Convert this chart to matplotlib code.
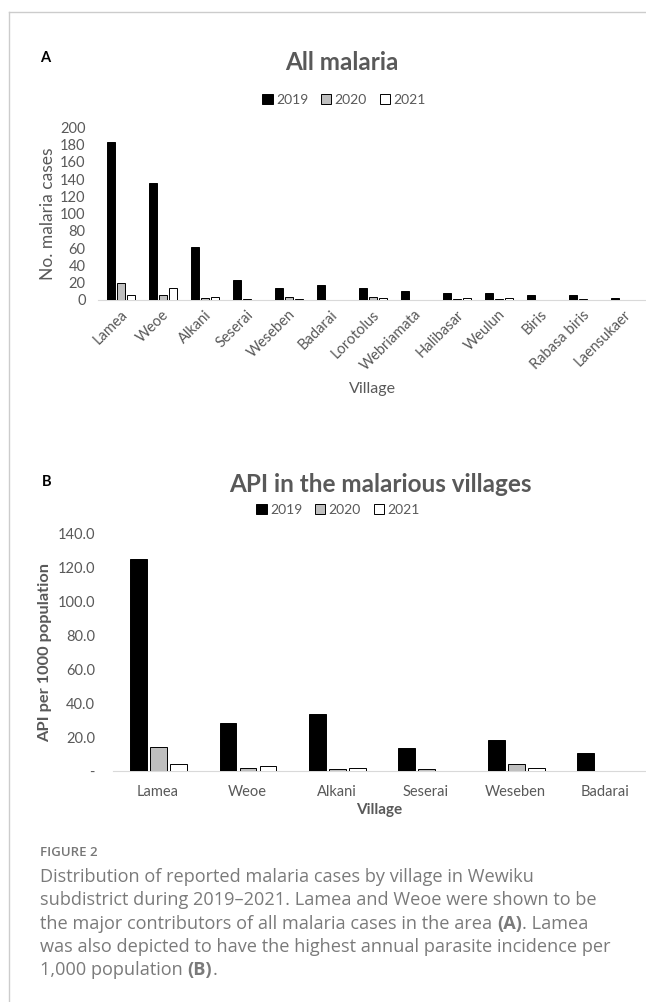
import numpy as np
import matplotlib.pyplot as plt
import matplotlib.transforms as mtrans
from matplotlib.lines import Line2D
from matplotlib.patches import Patch

plt.rcParams['font.family'] = ['Lato', 'DejaVu Sans']

# panel A data
villages_a = ['Lamea', 'Weoe', 'Alkani', 'Seserai', 'Weseben', 'Badarai', 'Lorotolus',
              'Webriamata', 'Halibasar', 'Weulun', 'Biris', 'Rabasa biris', 'Laensukaer']
cases_2019 = [183, 135, 61, 23, 14, 17, 14, 11, 8, 8, 6, 6, 2]
cases_2020 = [20, 6, 2, 1, 3, 0, 4, 0, 1, 1, 0, 1, 0]
cases_2021 = [6, 14, 3, 0, 1, 0, 2, 0, 2, 2, 0, 0, 0]

# panel B data
villages_b = ['Lamea', 'Weoe', 'Alkani', 'Seserai', 'Weseben', 'Badarai']
api_2019 = [124.7, 28.1, 33.4, 13.5, 18.1, 10.4]
api_2020 = [13.9, 1.5, 1.4, 1.0, 4.1, 0]
api_2021 = [4.3, 3.1, 1.9, 0, 1.5, 0]

years = ['2019', '2020', '2021']
colors = ['#000000', '#bfbfbf', '#ffffff']
grey = '#595959'

W, H = 646, 1002
fig = plt.figure(figsize=(W / 100, H / 100), dpi=100)


def px(x, y):
    return x / W, 1 - y / H


def draw_bars(ax, series, width, step, shift=0.0):
    x = np.arange(len(series[0]))
    for i, vals in enumerate(series):
        ax.bar(x + shift + (i - 1) * step, vals, width, color=colors[i],
               edgecolor='black', linewidth=0.7, zorder=3)
    for s in ['top', 'right', 'left']:
        ax.spines[s].set_visible(False)
    ax.spines['bottom'].set_color('#d9d9d9')
    ax.tick_params(length=0, colors=grey)
    return x


def legend_at(x, y):
    handles = [Patch(facecolor=c, edgecolor='black', linewidth=0.7) for c in colors]
    fig.legend(handles, years, loc='center', bbox_to_anchor=px(x, y), ncol=3,
               frameon=False, handlelength=0.75, handleheight=0.75, handletextpad=0.25,
               columnspacing=0.9, fontsize=10, labelcolor=grey)


# frame lines
fig.add_artist(Line2D([9 / W, 1], [1 - 12 / H] * 2, color='#cccccc', lw=1))
fig.add_artist(Line2D([9 / W] * 2, [1 - 12 / H, 0], color='#cccccc', lw=1))

# ---- panel A ----
axA = fig.add_axes([98 / W, 1 - 300 / H, (W - 98) / W, (300 - 127.3) / H])
xa = draw_bars(axA, [cases_2019, cases_2020, cases_2021], 0.19, 0.235, shift=0.04)
axA.set_xlim(-0.5, -0.5 + (W - 98) / 42)
axA.set_ylim(0, 200)
axA.set_yticks(range(0, 201, 20))
axA.set_xticks(xa)
axA.set_xticklabels(villages_a, rotation=45, ha='right', va='center', rotation_mode='anchor')
axA.tick_params(axis='x', labelsize=10.5, pad=9)
axA.tick_params(axis='y', labelsize=10.5, pad=9)
# nudge the slanted labels a little to the right, like the original
nudge = mtrans.ScaledTranslation(6 / 100, 0, fig.dpi_scale_trans)
for lab in axA.get_xticklabels():
    lab.set_transform(lab.get_transform() + nudge)
axA.set_ylabel('No. malaria cases', fontsize=12.5, color=grey, labelpad=3)
axA.set_xlabel('Village', fontsize=11.5, color=grey, labelpad=6)

fig.text(*px(40, 58), 'A', fontsize=10.5, fontweight='bold', va='center')
fig.text(*px(342, 63), 'All malaria', fontsize=17.5, fontweight='bold', color=grey,
         ha='center', va='center')
legend_at(344, 100)

# ---- panel B ----
axB = fig.add_axes([113 / W, 1 - 771 / H, (W - 113) / W, (771 - 533.3) / H])
xb = draw_bars(axB, [api_2019, api_2020, api_2021], 0.187, 0.224, shift=0.01)
axB.set_xlim(-0.5, -0.5 + (W - 113) / 89.4)
axB.set_ylim(0, 140)
axB.set_yticks(range(0, 141, 20))
axB.set_yticklabels(['-'] + [f'{v:.1f}' for v in range(20, 141, 20)])
axB.set_xticks(xb)
axB.set_xticklabels(villages_b)
axB.tick_params(axis='x', labelsize=10.5, pad=10)
axB.tick_params(axis='y', labelsize=10.5, pad=13)
axB.set_ylabel('API per 1000 population', fontsize=11.8, fontweight='bold', color=grey, labelpad=4)
axB.set_xlabel('Village', fontsize=11, fontweight='bold', color=grey, labelpad=3)

fig.text(*px(42, 482), 'B', fontsize=10.5, fontweight='bold', va='center')
fig.text(*px(380, 485), 'API in the malarious villages', fontsize=17.5, fontweight='bold',
         color=grey, ha='center', va='center')
legend_at(338, 510)

# ---- caption ----
cap_font = ['Open Sans', 'DejaVu Sans']
fig.text(*px(40, 852), 'FIGURE 2', fontsize=9.5, color='#777777', va='center',
         fontweight='semibold', family=cap_font)

cap_lines = [
    [('Distribution of reported malaria cases by village in Wewiku', False)],
    [('subdistrict during 2019\u20132021. Lamea and Weoe were shown to be', False)],
    [('the major contributors of all malaria cases in the area ', False), ('(A)', True),
     ('. Lamea', False)],
    [('was also depicted to have the highest annual parasite incidence per', False)],
    [('1,000 population ', False), ('(B)', True), ('.', False)],
]
renderer = fig.canvas.get_renderer()

# size the caption so its longest line spans the same width as in the original
probe = fig.text(0, 0, cap_lines[3][0][0], fontsize=12.8, family=cap_font)
cap_size = 12.8 * 572 / probe.get_window_extent(renderer).width
probe.remove()

for i, parts in enumerate(cap_lines):
    x = 40
    y = 877 + i * 23.3
    for txt, bold in parts:
        t = fig.text(*px(x, y), txt, fontsize=cap_size, color='#7a7a7a', va='center',
                     family=cap_font, fontweight='bold' if bold else 'normal')
        x += t.get_window_extent(renderer).width

fig.savefig('out.png', dpi=100)
